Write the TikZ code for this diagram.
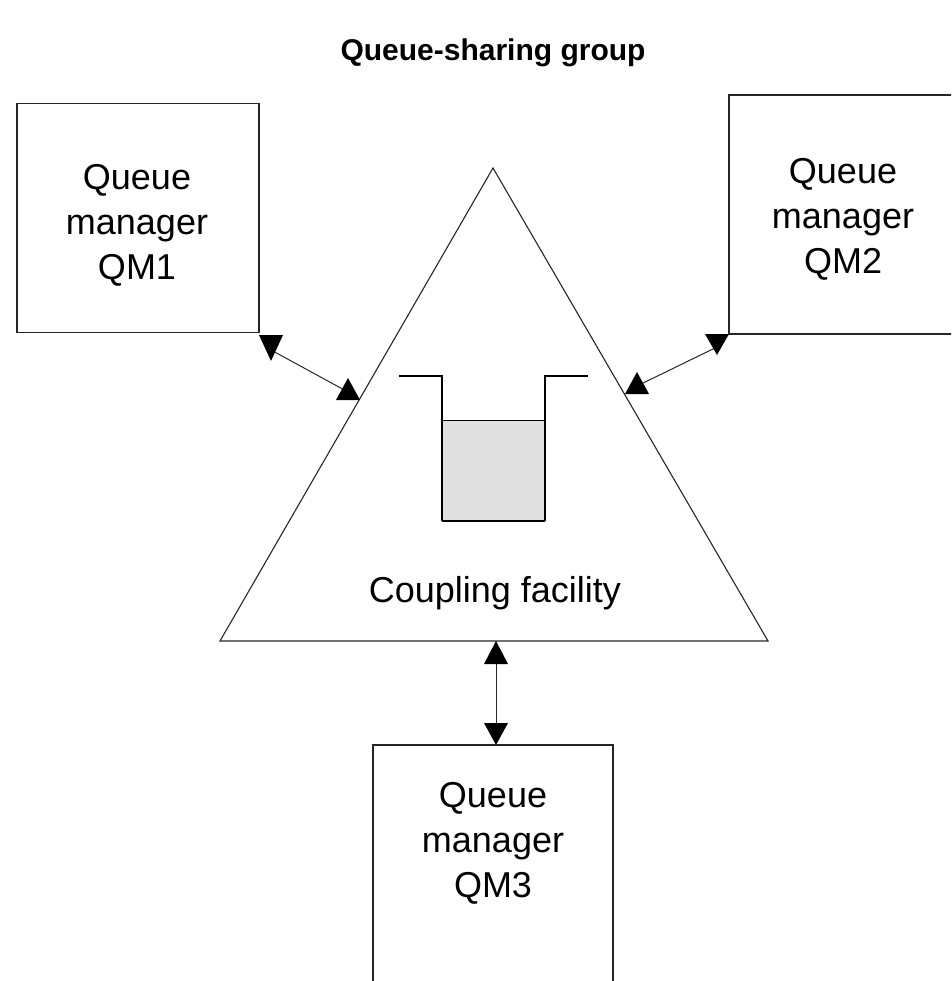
\documentclass[tikz,border=0pt]{standalone}
\usepackage{fontspec}
\setmainfont{Liberation Sans}
\begin{document}
\begin{tikzpicture}[x=1pt,y=-1pt,
  frame/.style={draw=black!85, line width=1.2pt, inner sep=0pt},
  label/.style={align=center, font=\fontsize{36}{45}\selectfont},
  link/.style={draw=black!85, line width=1pt},
  head/.style={fill=black},
  wall/.style={line width=2.6pt, line join=miter}]
\clip (0,0) rectangle (951,981);

% heading
\node[font=\bfseries\fontsize{30}{36}\selectfont] (title) at (493,53) {Queue-sharing group};

% queue managers
\node[frame, minimum width=242pt, minimum height=229pt] (qm1) at (138,218) {};
\node[label] (qm1t) at (137,225) {Queue\\manager\\QM1};
\node[frame, minimum width=240pt, minimum height=239pt] (qm2) at (849,214.5) {};
\node[label] (qm2t) at (843,219) {Queue\\manager\\QM2};
\node[frame, minimum width=240pt, minimum height=270pt] (qm3) at (493,880) {};
\node[label] (qm3t) at (493,843) {Queue\\manager\\QM3};

% coupling facility
\coordinate (apex) at (493,168);
\coordinate (cfl) at (220,641);
\coordinate (cfr) at (768,641);
\draw[line width=1.1pt, black!85] (apex) -- (cfl) -- (cfr) -- cycle;
\node[label] (cf) at (495,593) {Coupling facility};

% shared queue
\fill[black!12] (442,420) rectangle (545,521);
\draw[line width=1pt] (442,420) -- (545,420);
\draw[wall] (399,376) -- (442,376) -- (442,521);
\draw[wall] (588,376) -- (545,376) -- (545,521);
\draw[line width=2pt] (442,521) -- (545,521);

% QM1 link
\coordinate (l1a) at (271,350);
\coordinate (l1b) at (348,392);
\draw[link] (l1a) -- (l1b);
\fill[head] (259,335) -- (283,335) -- (271,361) -- cycle;
\fill[head] (336,400) -- (360,400) -- (348,378) -- cycle;

% QM2 link
\coordinate (l2a) at (717,347);
\coordinate (l2b) at (637,386);
\draw[link] (l2a) -- (l2b);
\fill[head] (705,334) -- (729,334) -- (717,355) -- cycle;
\fill[head] (625,394) -- (649,394) -- (637,372) -- cycle;

% QM3 link
\coordinate (l3a) at (496,652);
\coordinate (l3b) at (496,736);
\draw[link] (l3a) -- (l3b);
\fill[head] (484,664) -- (508,664) -- (496,641) -- cycle;
\fill[head] (484,723) -- (508,723) -- (496,745) -- cycle;
\end{tikzpicture}
\end{document}
